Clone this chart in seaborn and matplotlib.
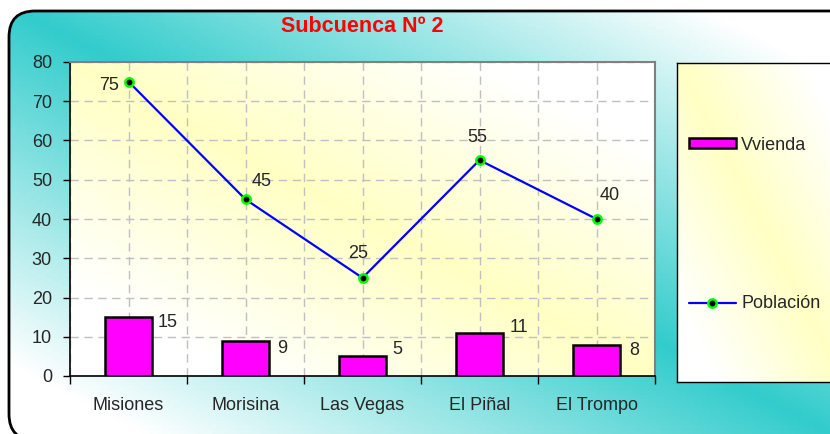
import numpy as np
import pandas as pd
import seaborn as sns
import matplotlib.pyplot as plt
from matplotlib.patches import FancyBboxPatch, Patch
from matplotlib.lines import Line2D
from matplotlib.colors import LinearSegmentedColormap

# data
lugares = ['Misiones', 'Morisina', 'Las Vegas', 'El Piñal', 'El Trompo']
vivienda = [15, 9, 5, 11, 8]
poblacion = [75, 45, 25, 55, 40]
y_ticks = [0, 10, 20, 30, 40, 50, 60, 70, 80]

df = pd.DataFrame({'lugar': lugares, 'Vvienda': vivienda, 'Población': poblacion})

sns.set_style('white')
plt.rcParams['font.family'] = ['Liberation Sans', 'DejaVu Sans']

W, H = 830, 434
fig = plt.figure(figsize=(W / 100, H / 100), dpi=100)


def diag_gradient(nx, ny, c1, k=1.3):
    # colour along the top-left -> bottom-right diagonal, white towards the other two corners
    u = np.linspace(0, 1, nx)[None, :]
    v = np.linspace(0, 1, ny)[:, None]
    t = np.clip(1 - np.abs(u - v) * k, 0, 1)
    cmap = LinearSegmentedColormap.from_list('g', ['white', c1])
    return cmap(t)


# figure background with rounded frame (right and bottom edges run off the picture)
bg = fig.add_axes([0, 0, 1, 1])
bg.set_xlim(0, W)
bg.set_ylim(0, H)
bg.axis('off')
frame = FancyBboxPatch((9, -6), W + 40, H - 11 + 6, boxstyle='round,pad=0,rounding_size=26',
                       facecolor='none', edgecolor='black', linewidth=2, zorder=3)
bg.add_patch(frame)
img = bg.imshow(diag_gradient(200, 100, '#33CCCC', 1.2), extent=[0, W, 0, H],
                origin='upper', aspect='auto', zorder=1)
img.set_clip_path(frame)

# plot area
x0, x1, y0, y1 = 70, 655, 62, 376
ax = fig.add_axes([x0 / W, 1 - y1 / H, (x1 - x0) / W, (y1 - y0) / H])
ax.set_facecolor('none')
ax.imshow(diag_gradient(200, 100, '#FFFFC4', 1.4), extent=[-0.5, 4.5, 0, 80],
          aspect='auto', zorder=0)

sns.barplot(data=df, x='lugar', y='Vvienda', color='#FF00FF', edgecolor='black',
            linewidth=1.8, width=0.4, saturation=1, ax=ax, zorder=3)
sns.lineplot(data=df, x='lugar', y='Población', color='#0000FF', linewidth=1.6,
             marker='o', markersize=6, markerfacecolor='black', markeredgecolor='#00FF00',
             markeredgewidth=1.8, ax=ax, zorder=4, sort=False)

ax.set_xlim(-0.5, 4.5)
ax.set_ylim(0, 80)
ax.set_xlabel('')
ax.set_ylabel('')

# category boundaries as major ticks, names at the centres
ax.set_xticks(np.arange(-0.5, 5, 1))
ax.set_xticklabels([])
ax.set_xticks(np.arange(len(lugares)), minor=True)
ax.set_xticklabels(lugares, minor=True, fontsize=13)
ax.tick_params(axis='x', which='major', direction='out', length=6, width=1, color='black', bottom=True)
ax.tick_params(axis='x', which='minor', length=0, pad=15)
ax.set_yticks(y_ticks)
ax.tick_params(axis='y', direction='out', length=5, width=1, color='black', left=True,
               labelsize=13, pad=8)

ax.grid(True, axis='y', color='#C0C0C0', linestyle=(0, (6, 4)), linewidth=1, zorder=1)
ax.grid(True, axis='x', which='both', color='#C0C0C0', linestyle=(0, (6, 4)), linewidth=1, zorder=1)
ax.set_axisbelow(True)

for side in ['top', 'right']:
    ax.spines[side].set_color('#808080')
    ax.spines[side].set_linewidth(1.5)
for side in ['left', 'bottom']:
    ax.spines[side].set_color('black')
    ax.spines[side].set_linewidth(1.2)

# value labels (offsets in pixels from bar top-right corner / from the point)
bar_off = [(16, -5), (13, -8), (11, 7), (16, 5), (14, -6)]
for i, v in enumerate(vivienda):
    ax.annotate(str(v), (i + 0.2, v), xytext=bar_off[i], textcoords='offset pixels',
                ha='center', va='center', fontsize=13, zorder=5)
pt_off = [(-19, -4), (16, 18), (-4, 24), (-2, 23), (13, 24)]
for i, v in enumerate(poblacion):
    ax.annotate(str(v), (i, v), xytext=pt_off[i], textcoords='offset pixels',
                ha='center', va='center', fontsize=13, zorder=5)

# title
fig.text(362 / W, 1 - 26 / H, 'Subcuenca Nº 2', color='red', fontsize=15.5,
         fontweight='bold', ha='center', va='center')

# legend box
lx0, lx1, ly0, ly1 = 677, 845, 63, 382
lax = fig.add_axes([lx0 / W, 1 - ly1 / H, (lx1 - lx0) / W, (ly1 - ly0) / H])
lax.imshow(diag_gradient(60, 100, '#FFFFC4', 1.3), extent=[0, 1, 0, 1], aspect='auto')
lax.set_xlim(0, 1)
lax.set_ylim(0, 1)
lax.set_xticks([])
lax.set_yticks([])
for s in lax.spines.values():
    s.set_color('black')
    s.set_linewidth(1)

handles = [Patch(facecolor='#FF00FF', edgecolor='black', linewidth=1.8),
           Line2D([], [], color='#0000FF', linewidth=1.6, marker='o', markersize=6,
                  markerfacecolor='black', markeredgecolor='#00FF00', markeredgewidth=1.8)]
leg = lax.legend(handles, ['Vvienda', 'Población'], loc='center left',
                 bbox_to_anchor=(12 / (lx1 - lx0), 0.5 - 2 / (ly1 - ly0)), frameon=False,
                 fontsize=13, labelspacing=7.85, handlelength=2.6, handleheight=0.5,
                 handletextpad=0.3, borderpad=0, borderaxespad=0)

fig.savefig('out.png', dpi=100)
